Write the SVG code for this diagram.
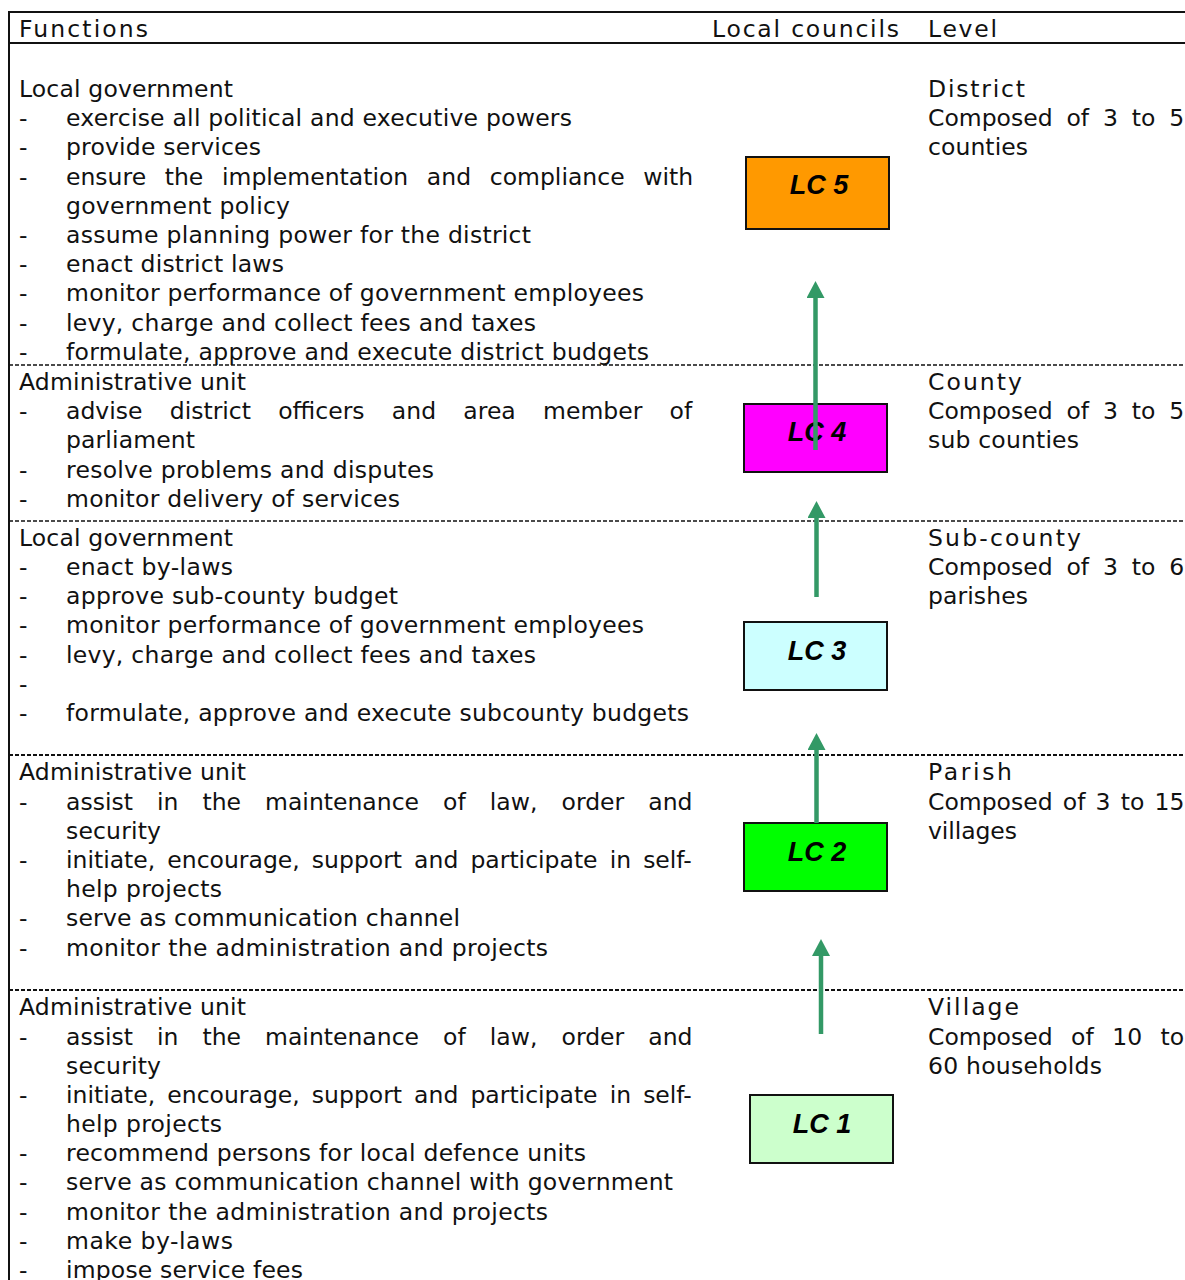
<svg xmlns="http://www.w3.org/2000/svg" width="1185" height="1280" viewBox="0 0 1185 1280">
<style>
.t{font-family:"DejaVu Sans",Verdana,sans-serif;font-size:23.5px;fill:#111}
.lc{font-family:"Liberation Sans",Arial,sans-serif;font-size:27px;font-weight:bold;font-style:italic;fill:#000;text-anchor:middle}
.box{stroke:#111;stroke-width:2}
.dash{stroke:#111;stroke-dasharray:4 2}
.arr{stroke:#339966;stroke-width:4.5;fill:none}
</style>
<defs>
<marker id="ah" viewBox="0 0 17 18" refX="0" refY="9" markerWidth="17" markerHeight="18" markerUnits="userSpaceOnUse" orient="auto">
<path d="M0,0 L17,9 L0,18 Z" fill="#339966"/>
</marker>
</defs>
<rect width="1185" height="1280" fill="#fff"/>
<g id="table">
<line x1="9" y1="12" x2="1185" y2="12" stroke="#111" stroke-width="2"/>
<line x1="9" y1="43" x2="1185" y2="43" stroke="#111" stroke-width="2"/>
<line x1="9" y1="11" x2="9" y2="1280" stroke="#111" stroke-width="2"/>
<line class="dash" x1="9" y1="365" x2="1185" y2="365" stroke-width="1.5"/>
<line class="dash" x1="9" y1="521" x2="1185" y2="521" stroke-width="1.5"/>
<line class="dash" x1="9" y1="755" x2="1185" y2="755" stroke-width="2"/>
<line class="dash" x1="9" y1="990" x2="1185" y2="990" stroke-width="2"/>
</g>
<g id="header" class="t">
<text x="19" y="37" textLength="129">Functions</text>
<text x="712" y="37" textLength="187">Local councils</text>
<text x="928" y="37" textLength="69">Level</text>
</g>
<g id="functions" class="t" transform="translate(0,1)">
<text x="19" y="96" textLength="214">Local government</text>
<text x="19" y="125">-</text><text x="66" y="125" textLength="506">exercise all political and executive powers</text>
<text x="19" y="154">-</text><text x="66" y="154" textLength="195">provide services</text>
<text x="19" y="184">-</text><text x="66" y="184" word-spacing="11.2">ensure the implementation and compliance with</text>
<text x="66" y="213" textLength="224">government policy</text>
<text x="19" y="242">-</text><text x="66" y="242" textLength="465">assume planning power for the district</text>
<text x="19" y="271">-</text><text x="66" y="271" textLength="218">enact district laws</text>
<text x="19" y="300">-</text><text x="66" y="300" textLength="578">monitor performance of government employees</text>
<text x="19" y="330">-</text><text x="66" y="330" textLength="470">levy, charge and collect fees and taxes</text>
<text x="19" y="359">-</text><text x="66" y="359" textLength="583">formulate, approve and execute district budgets</text>

<text x="19" y="389" textLength="227">Administrative unit</text>
<text x="19" y="418">-</text><text x="66" y="418" word-spacing="19.8">advise district officers and area member of</text>
<text x="66" y="447" textLength="129">parliament</text>
<text x="19" y="477">-</text><text x="66" y="477" textLength="368">resolve problems and disputes</text>
<text x="19" y="506">-</text><text x="66" y="506" textLength="334">monitor delivery of services</text>

<text x="19" y="545" textLength="214">Local government</text>
<text x="19" y="574">-</text><text x="66" y="574" textLength="167">enact by-laws</text>
<text x="19" y="603">-</text><text x="66" y="603" textLength="332">approve sub-county budget</text>
<text x="19" y="632">-</text><text x="66" y="632" textLength="578">monitor performance of government employees</text>
<text x="19" y="662">-</text><text x="66" y="662" textLength="470">levy, charge and collect fees and taxes</text>
<text x="19" y="691">-</text>
<text x="19" y="720">-</text><text x="66" y="720" textLength="623">formulate, approve and execute subcounty budgets</text>

<text x="19" y="779" textLength="227">Administrative unit</text>
<text x="19" y="809">-</text><text x="66" y="809" word-spacing="16.6">assist in the maintenance of law, order and</text>
<text x="66" y="838" textLength="95">security</text>
<text x="19" y="867">-</text><text x="66" y="867" word-spacing="4.6">initiate, encourage, support and participate in self-</text>
<text x="66" y="896" textLength="156">help projects</text>
<text x="19" y="925">-</text><text x="66" y="925" textLength="394">serve as communication channel</text>
<text x="19" y="955">-</text><text x="66" y="955" textLength="482">monitor the administration and projects</text>

<text x="19" y="1014" textLength="227">Administrative unit</text>
<text x="19" y="1044">-</text><text x="66" y="1044" word-spacing="16.6">assist in the maintenance of law, order and</text>
<text x="66" y="1073" textLength="95">security</text>
<text x="19" y="1102">-</text><text x="66" y="1102" word-spacing="4.6">initiate, encourage, support and participate in self-</text>
<text x="66" y="1131" textLength="156">help projects</text>
<text x="19" y="1160">-</text><text x="66" y="1160" textLength="520">recommend persons for local defence units</text>
<text x="19" y="1189">-</text><text x="66" y="1189" textLength="607">serve as communication channel with government</text>
<text x="19" y="1219">-</text><text x="66" y="1219" textLength="482">monitor the administration and projects</text>
<text x="19" y="1248">-</text><text x="66" y="1248" textLength="167">make by-laws</text>
<text x="19" y="1277">-</text><text x="66" y="1277" textLength="237">impose service fees</text>
</g>
<g id="levels" class="t" transform="translate(0,1)">
<text x="928" y="96" textLength="97">District</text>
<text x="928" y="125" word-spacing="6.4">Composed of 3 to 5</text>
<text x="928" y="154" textLength="100">counties</text>
<text x="928" y="389" textLength="94">County</text>
<text x="928" y="418" word-spacing="6.4">Composed of 3 to 5</text>
<text x="928" y="447" textLength="151">sub counties</text>
<text x="928" y="545" textLength="153">Sub-county</text>
<text x="928" y="574" word-spacing="6.4">Composed of 3 to 6</text>
<text x="928" y="603" textLength="100">parishes</text>
<text x="928" y="779" textLength="84">Parish</text>
<text x="928" y="809" word-spacing="2.7">Composed of 3 to 15</text>
<text x="928" y="838" textLength="89">villages</text>
<text x="928" y="1014" textLength="91">Village</text>
<text x="928" y="1044" word-spacing="11">Composed of 10 to</text>
<text x="928" y="1073" textLength="174">60 households</text>
</g>
<g id="LC5"><rect class="box" x="746" y="157" width="143" height="72" fill="#FF9900"/><text class="lc" x="819" y="194">LC 5</text></g>
<g id="LC4"><rect class="box" x="744" y="404" width="143" height="68" fill="#FF00FF"/><text class="lc" x="817" y="441">LC 4</text></g>
<g id="LC3"><rect class="box" x="744" y="622" width="143" height="68" fill="#CCFFFF"/><text class="lc" x="817" y="660">LC 3</text></g>
<g id="LC2"><rect class="box" x="744" y="823" width="143" height="68" fill="#00FF00"/><text class="lc" x="817" y="861">LC 2</text></g>
<g id="LC1"><rect class="box" x="750" y="1095" width="143" height="68" fill="#CCFFCC"/><text class="lc" x="822" y="1133">LC 1</text></g>
<g id="connectors">
<line class="arr" x1="815.5" y1="450" x2="815.5" y2="298" marker-end="url(#ah)"/>
<line class="arr" x1="816.5" y1="597" x2="816.5" y2="518" marker-end="url(#ah)"/>
<line class="arr" x1="816.5" y1="823" x2="816.5" y2="750" marker-end="url(#ah)"/>
<line class="arr" x1="821" y1="1034" x2="821" y2="956" marker-end="url(#ah)"/>
</g>
</svg>
